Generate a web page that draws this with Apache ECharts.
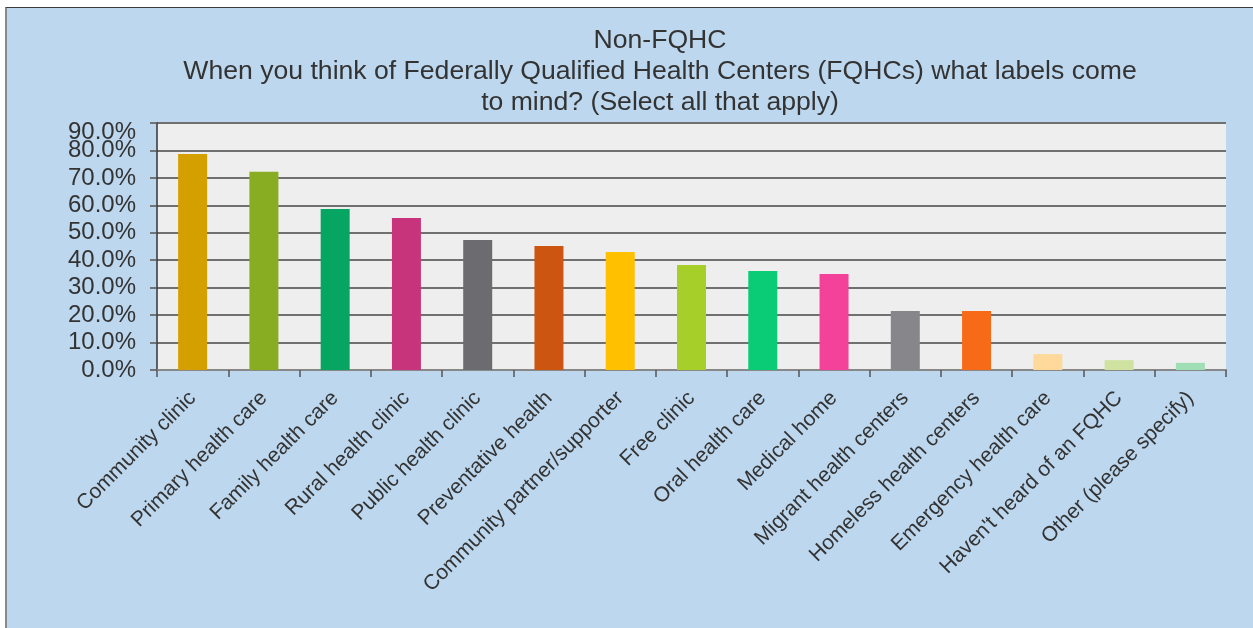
<!DOCTYPE html>
<html>
<head>
<meta charset="utf-8">
<script src="https://cdn.jsdelivr.net/npm/echarts@6/dist/echarts.min.js"></script>
<style>
  html, body { margin: 0; padding: 0; background: #ffffff; }
  #frame {
    position: absolute; left: 5px; top: 7px; width: 1246px; height: 621px;
    background: #BDD7EE; border-top: 1px solid #3a3a3a; border-left: 2px solid #8a8a8a;
  }
  #chart { position: absolute; left: 0; top: 0; width: 1253px; height: 628px; }
</style>
</head>
<body>
<div id="frame"></div>
<div id="chart"></div>
<script>
// Survey answers (share of respondents, %)
const categories = [
  'Community clinic', 'Primary health care', 'Family health care', 'Rural health clinic',
  'Public health clinic', 'Preventative health', 'Community partner/supporter', 'Free clinic',
  'Oral health care', 'Medical home', 'Migrant health centers', 'Homeless health centers',
  'Emergency health care', "Haven't heard of an FQHC", 'Other (please specify)'
];
const values = [78.7, 72.2, 58.7, 55.4, 47.4, 45.2, 43.0, 38.3, 36.1, 35.0, 21.5, 21.5, 5.8, 3.6, 2.6];
const barColors = [
  '#D4A000', '#88AD22', '#06A662', '#C7347C', '#6C6B70', '#CC5511', '#FFC000', '#A6CF2A',
  '#0ACC76', '#F4429A', '#87868B', '#F76A18', '#FFD89C', '#D0E2A0', '#A0DFB6'
];
const titleLines = [
  'Non-FQHC',
  'When you think of Federally Qualified Health Centers (FQHCs) what labels come',
  'to mind? (Select all that apply)'
];
const yMax = 90;
const yStep = 10;

const FONT = '"Liberation Sans", Arial, sans-serif';
const TEXT = '#333333';
const pct = v => v.toFixed(1) + '%';

const chart = echarts.init(document.getElementById('chart'), null, { renderer: 'canvas' });

// value axis settings shared by the two left axes (one draws the lines, the
// other only the top label, which sits a little below its gridline)
const valueAxisBase = {
  type: 'value',
  min: 0, max: yMax, interval: yStep,
  position: 'left'
};

chart.setOption({
  backgroundColor: 'transparent',
  animation: false,
  graphic: [{
    type: 'text',
    x: 660, y: 25,
    style: {
      text: titleLines.join('\n'),
      align: 'center',
      verticalAlign: 'top',
      fontSize: 26.6,
      lineHeight: 31,
      fontFamily: FONT,
      fill: TEXT
    }
  }],
  grid: {
    left: 157, right: 27, top: 123, bottom: 258,
    show: true, backgroundColor: '#EEEEEE', borderWidth: 0
  },
  xAxis: {
    type: 'category',
    data: categories,
    axisLine: { lineStyle: { color: '#888888', width: 2 } },
    axisTick: { show: true, alignWithLabel: false, length: 7, lineStyle: { color: '#555555', width: 1.5 } },
    axisLabel: {
      rotate: 45, interval: 0, margin: 25,
      fontSize: 21, fontFamily: FONT, color: TEXT
    },
    splitLine: { show: false }
  },
  yAxis: [
    Object.assign({}, valueAxisBase, {
      axisLine: { show: true, lineStyle: { color: '#333333', width: 1.5 } },
      axisTick: { show: true, length: 7, lineStyle: { color: '#555555', width: 1.5 } },
      axisLabel: {
        margin: 21, fontSize: 24, fontFamily: FONT, color: TEXT,
        formatter: v => (v === yMax ? '' : pct(v))
      },
      splitLine: { show: true, lineStyle: { color: '#707070', width: 2 } }
    }),
    Object.assign({}, valueAxisBase, {
      axisLine: { show: false },
      axisTick: { show: false },
      splitLine: { show: false },
      axisLabel: {
        margin: 21, fontSize: 24, fontFamily: FONT, color: TEXT,
        showMaxLabel: true,
        formatter: v => (v === yMax ? '{top|' + pct(v) + '}' : ''),
        rich: { top: { fontSize: 24, fontFamily: FONT, color: TEXT, padding: [18, 0, 0, 0] } }
      }
    })
  ],
  series: [{
    type: 'bar',
    yAxisIndex: 0,
    data: values.map((v, i) => ({ value: v, itemStyle: { color: barColors[i] } })),
    barWidth: 29
  }]
});
</script>
</body>
</html>
